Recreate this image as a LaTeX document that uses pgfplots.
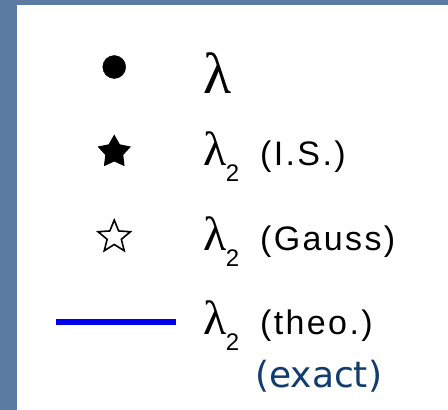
\documentclass[border=0pt]{standalone}
\usepackage{fontspec}
\newfontfamily\legfont{Liberation Sans}[LetterSpace=7]
\newfontfamily\lamfont{Liberation Serif}
\newfontfamily\exfont{DejaVu Sans}
\usepackage{pgfplots}
\pgfplotsset{compat=1.18}

\definecolor{slide}{RGB}{91,123,163}
\definecolor{exactblue}{RGB}{16,60,112}
\definecolor{theoblue}{RGB}{0,0,240}

% five-pointed stars: filled and outline
\pgfdeclareplotmark{pentastar*}{%
  \pgfpathmoveto{\pgfpointpolar{90}{\pgfplotmarksize}}%
  \pgfpathlineto{\pgfpointpolar{126}{0.54*\pgfplotmarksize}}%
  \pgfpathlineto{\pgfpointpolar{162}{\pgfplotmarksize}}%
  \pgfpathlineto{\pgfpointpolar{198}{0.54*\pgfplotmarksize}}%
  \pgfpathlineto{\pgfpointpolar{234}{\pgfplotmarksize}}%
  \pgfpathlineto{\pgfpointpolar{270}{0.54*\pgfplotmarksize}}%
  \pgfpathlineto{\pgfpointpolar{306}{\pgfplotmarksize}}%
  \pgfpathlineto{\pgfpointpolar{342}{0.54*\pgfplotmarksize}}%
  \pgfpathlineto{\pgfpointpolar{18}{\pgfplotmarksize}}%
  \pgfpathlineto{\pgfpointpolar{54}{0.54*\pgfplotmarksize}}%
  \pgfpathclose
  \pgfusepathqfillstroke}
\pgfdeclareplotmark{pentastar}{%
  \pgfpathmoveto{\pgfpointpolar{90}{\pgfplotmarksize}}%
  \pgfpathlineto{\pgfpointpolar{126}{0.44*\pgfplotmarksize}}%
  \pgfpathlineto{\pgfpointpolar{162}{\pgfplotmarksize}}%
  \pgfpathlineto{\pgfpointpolar{198}{0.44*\pgfplotmarksize}}%
  \pgfpathlineto{\pgfpointpolar{234}{\pgfplotmarksize}}%
  \pgfpathlineto{\pgfpointpolar{270}{0.44*\pgfplotmarksize}}%
  \pgfpathlineto{\pgfpointpolar{306}{\pgfplotmarksize}}%
  \pgfpathlineto{\pgfpointpolar{342}{0.44*\pgfplotmarksize}}%
  \pgfpathlineto{\pgfpointpolar{18}{\pgfplotmarksize}}%
  \pgfpathlineto{\pgfpointpolar{54}{0.44*\pgfplotmarksize}}%
  \pgfpathclose
  \pgfusepathqstroke}

% legend images share one 120pt wide box so the columns line up
\pgfplotsset{
  markimg/.style={legend image code/.code={%
      \path[draw=none, fill=none] (0pt,-14pt) rectangle (120pt,14pt);
      \draw[##1] plot coordinates {(58pt,0pt)};}},
  lineimg/.style={legend image code/.code={%
      \path[draw=none, fill=none] (0pt,-14pt) rectangle (120pt,14pt);
      \draw[##1] (0pt,0pt) -- (120pt,0pt);}},
}

\newcommand\lamsub{{\lamfont\fontsize{48}{48}\selectfont λ}\kern-1pt%
  \raisebox{-16pt}{\fontsize{24}{24}\selectfont 2}\hspace{21pt}}

\begin{document}
\begin{tikzpicture}
\begin{axis}[
  width=448pt, height=410pt, scale only axis,
  xmin=0, xmax=448, ymin=0, ymax=410,
  hide axis,
  legend cell align=left,
  legend style={at={(0.1183,0.90244)}, anchor=north west,
    draw=none, fill=none, inner sep=0pt, outer sep=0pt,
    row sep=31pt, column sep=24pt,
    nodes={inner sep=0pt, outer sep=0pt, text height=40pt, text depth=14pt},
    font=\legfont\fontsize{34}{40}\selectfont},
]
\fill[slide] (axis cs:0,0) rectangle (axis cs:448,410);
\fill[white] (axis cs:17,0) rectangle (axis cs:448,405);

\addlegendimage{markimg, only marks, mark=*, mark size=11.5pt, black}
\addlegendentry{\raisebox{-13pt}{\lamfont\fontsize{58}{58}\selectfont λ}}
\addlegendimage{markimg, only marks, mark=pentastar*, mark size=16.5pt, black, mark options={fill=black, line width=1pt}}
\addlegendentry{\lamsub(I.S.)}
\addlegendimage{markimg, only marks, mark=pentastar, mark size=17pt, black, mark options={line width=1.6pt}}
\addlegendentry{\lamsub(Gauss)}
\addlegendimage{lineimg, theoblue, line width=6.5pt}
\addlegendentry{\lamsub(theo.)}

\node[anchor=base west, inner sep=0pt, text=exactblue,
      font=\exfont\fontsize{36}{40}\selectfont] at (axis cs:255,22) {(exact)};
\end{axis}
\end{tikzpicture}
\end{document}
